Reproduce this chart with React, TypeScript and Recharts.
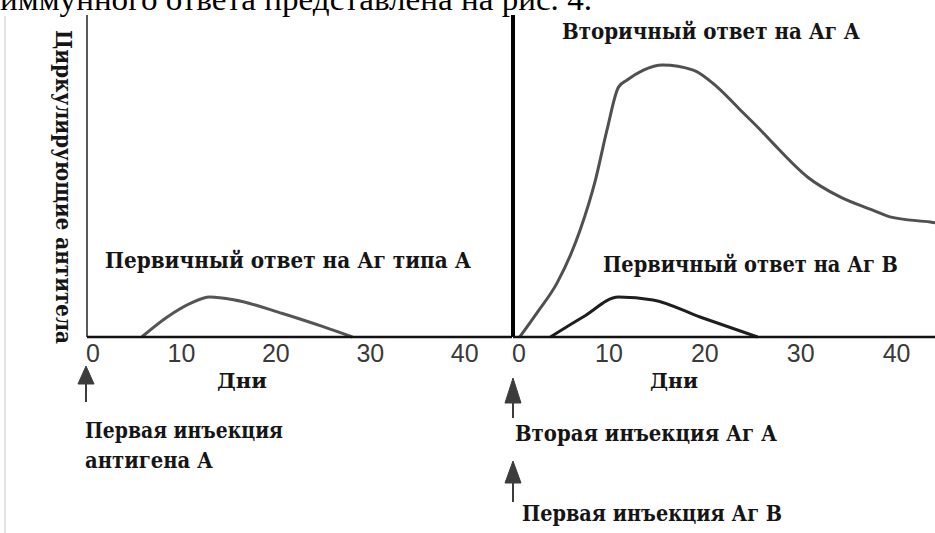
import React from "react"
import { Line, LineChart, ReferenceLine, XAxis, YAxis } from "recharts"

// days on x, antibody level (0-100) on y
const dayTicks = [0, 10, 20, 30, 40]

const primaryADays = [5.8, 8.5, 11, 13, 15.5, 20.7, 25, 28.1]
const primaryAValues = [0, 6.2, 10.5, 12.4, 11.6, 7.3, 3.2, 0]

const secondaryADays = [0.7, 2.5, 4.6, 7, 8.6, 9.8, 11, 11.9, 13.6, 15.6, 18.8, 21.3, 23.7, 25.8, 27.1, 30.7, 34.1, 37.5, 39.3, 43.5, 44]
const secondaryAValues = [0, 7.5, 16.8, 33.2, 48.8, 64.3, 77.6, 79.8, 82.9, 84.5, 82.9, 77.6, 70.5, 64.3, 60.2, 49.7, 43.5, 39.4, 37.3, 35.7, 35.5]

const primaryBDays = [3.9, 7.3, 11, 14.6, 19.5, 25.5]
const primaryBValues = [0, 6.2, 12.4, 11.5, 6.2, 0]

const toRows = (days: number[], values: number[]) =>
    days.map((d, i) => ({ day: d, level: values[i] }))

const serif = "'Liberation Serif', 'DejaVu Serif', serif"
const heavySerif = "'DejaVu Serif', 'Liberation Serif', serif"
const sans = "'Liberation Sans', Arial, sans-serif"

const DayTick = (props: any) => {
    const { x, payload } = props
    const v = payload.value
    return (
        <text
            x={x + (v === 0 ? 6 : 0)}
            y={362}
            textAnchor="middle"
            fontFamily={sans}
            fontSize={25}
            fill="#3a3a3a"
        >
            {v}
        </text>
    )
}

const Label = ({ x, y, w, size = 23, children }: any) => (
    <text
        x={x}
        y={y}
        textLength={w}
        lengthAdjust="spacingAndGlyphs"
        fontFamily={heavySerif}
        fontWeight="bold"
        fontSize={size}
        fill="#151515"
    >
        {children}
    </text>
)

const Arrow = ({ x, top, headEnd, bottom }: any) => (
    <g fill="#3c3c3c" stroke="#3c3c3c">
        <polygon points={`${x},${top} ${x - 8},${headEnd} ${x + 8},${headEnd}`} strokeWidth={1} />
        <line x1={x} y1={headEnd} x2={x} y2={bottom} strokeWidth={2} />
    </g>
)

const App = () => {
    const primaryA = toRows(primaryADays, primaryAValues)
    const secondaryA = toRows(secondaryADays, secondaryAValues)
    const primaryB = toRows(primaryBDays, primaryBValues)

    const chartStyle: React.CSSProperties = { position: "absolute", left: 0, top: 0 }

    return (
        <div
            style={{
                position: "fixed",
                left: 0,
                top: 0,
                width: 935,
                height: 533,
                overflow: "hidden",
                background: "#fff",
            }}
        >
            {/* first injection panel */}
            <div style={chartStyle}>
                <LineChart
                    width={935}
                    height={533}
                    margin={{ top: 15, right: 423, bottom: 166, left: 87 }}
                >
                    <XAxis
                        type="number"
                        dataKey="day"
                        domain={[0, 45]}
                        ticks={dayTicks}
                        tickLine={false}
                        axisLine={{ stroke: "#111", strokeWidth: 2.5 }}
                        tick={<DayTick />}
                        height={30}
                        allowDataOverflow
                    />
                    <YAxis hide type="number" domain={[0, 100]} />
                    <ReferenceLine x={0} stroke="#222" strokeWidth={1.5} />
                    <Line
                        data={primaryA}
                        dataKey="level"
                        type="monotone"
                        stroke="#555"
                        strokeWidth={3}
                        dot={false}
                        isAnimationActive={false}
                    />
                </LineChart>
            </div>

            {/* second injection panel */}
            <div style={chartStyle}>
                <LineChart
                    width={935}
                    height={533}
                    margin={{ top: 15, right: 0, bottom: 166, left: 513 }}
                >
                    <XAxis
                        type="number"
                        dataKey="day"
                        domain={[0, 44]}
                        ticks={dayTicks}
                        tickLine={false}
                        axisLine={{ stroke: "#111", strokeWidth: 2.5 }}
                        tick={<DayTick />}
                        height={30}
                        allowDataOverflow
                    />
                    <YAxis hide type="number" domain={[0, 100]} />
                    <ReferenceLine x={0} stroke="#000" strokeWidth={4} />
                    <Line
                        data={secondaryA}
                        dataKey="level"
                        type="monotone"
                        stroke="#505050"
                        strokeWidth={3}
                        dot={false}
                        isAnimationActive={false}
                    />
                    <Line
                        data={primaryB}
                        dataKey="level"
                        type="monotone"
                        stroke="#1e1e1e"
                        strokeWidth={3}
                        dot={false}
                        isAnimationActive={false}
                    />
                </LineChart>
            </div>

            {/* annotations */}
            <svg width={935} height={533} style={{ position: "absolute", left: 0, top: 0, pointerEvents: "none" }}>
                <text
                    x={0}
                    y={10}
                    textLength={592}
                    lengthAdjust="spacingAndGlyphs"
                    fontFamily={serif}
                    fontSize={32}
                    fill="#000"
                >
                    иммунного ответа представлена на рис. 4.
                </text>
                <line x1={5} y1={16} x2={5} y2={533} stroke="#d8d8d8" strokeWidth={1.5} />

                <text
                    transform="translate(56,30) rotate(90)"
                    textLength={314}
                    lengthAdjust="spacingAndGlyphs"
                    fontFamily={heavySerif}
                    fontWeight="bold"
                    fontSize={22}
                    fill="#151515"
                >
                    Циркулирующие антитела
                </text>

                <Label x={105} y={268} w={366}>Первичный ответ на Аг типа А</Label>
                <Label x={562} y={39} w={298}>Вторичный ответ на Аг А</Label>
                <Label x={603} y={272} w={295}>Первичный ответ на Аг В</Label>

                <Label x={217} y={388} w={50} size={21}>Дни</Label>
                <Label x={650} y={388} w={48} size={21}>Дни</Label>

                <Arrow x={86} top={366} headEnd={384} bottom={402} />
                <Label x={85} y={438} w={198}>Первая инъекция</Label>
                <Label x={85} y={468} w={128}>антигена А</Label>

                <Arrow x={513} top={378} headEnd={403} bottom={418} />
                <Label x={515} y={441} w={262}>Вторая инъекция Аг А</Label>

                <Arrow x={513} top={461} headEnd={483} bottom={502} />
                <Label x={522} y={521} w={260}>Первая инъекция Аг В</Label>
            </svg>
        </div>
    )
}

export default App
